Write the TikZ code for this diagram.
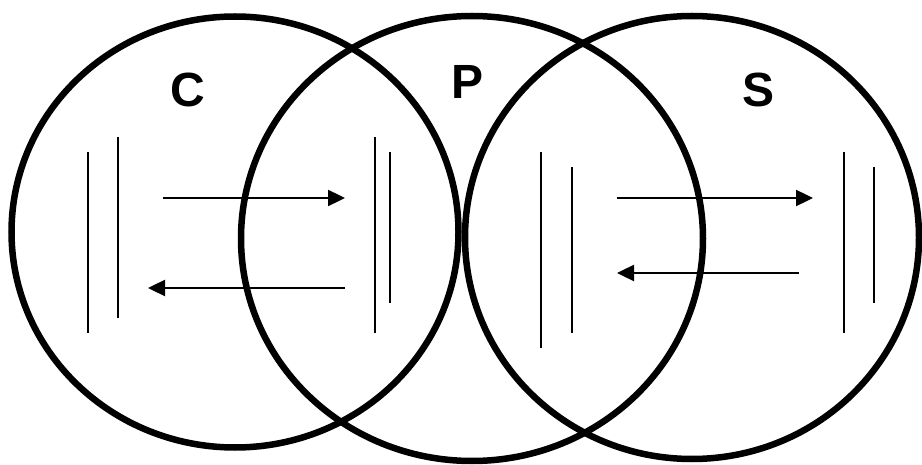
\documentclass[tikz,border=0pt]{standalone}
\usepackage{fontspec}
\setmainfont{Liberation Sans}
\usetikzlibrary{arrows.meta}

\tikzset{
    ring/.style={line width=6.5pt},
    plate/.style={line width=2pt},
    flow/.style={line width=2.4pt, ->},
    tag/.style={inner sep=0pt, font=\bfseries\fontsize{48}{48}\selectfont}
}

\begin{document}
\begin{tikzpicture}[x=1pt, y=-1pt, >={Triangle[length=17pt,width=16pt]}]
    \useasboundingbox (0,0) rectangle (922,465);

    \draw[ring] (235,232) ellipse[x radius=223.5, y radius=215.5];
    \draw[ring] (472,238.5) ellipse[x radius=231, y radius=222.5];
    \draw[ring] (692,237.5) ellipse[x radius=227, y radius=221.5];

    \node[tag] (lblC) at (188,90) {C};
    \node[tag] (lblP) at (468,82) {P};
    \node[tag] (lblS) at (759,90) {S};

    \foreach \x/\top/\bot in {88/152/333, 118/137/318, 375/137/333, 390/152/303,
                              541/152/348, 572/167/333, 844/152/333, 874/167/303}
        \draw[plate] (\x,\top) -- (\x,\bot);

    \coordinate (cpA) at (163,198);
    \coordinate (cpB) at (345,198);
    \coordinate (pcA) at (345,288);
    \coordinate (pcB) at (148,288);
    \coordinate (psA) at (617,198);
    \coordinate (psB) at (813,198);
    \coordinate (spA) at (799,273);
    \coordinate (spB) at (617,273);

    \draw[flow] (cpA) -- (cpB);
    \draw[flow] (pcA) -- (pcB);
    \draw[flow] (psA) -- (psB);
    \draw[flow] (spA) -- (spB);
\end{tikzpicture}
\end{document}
